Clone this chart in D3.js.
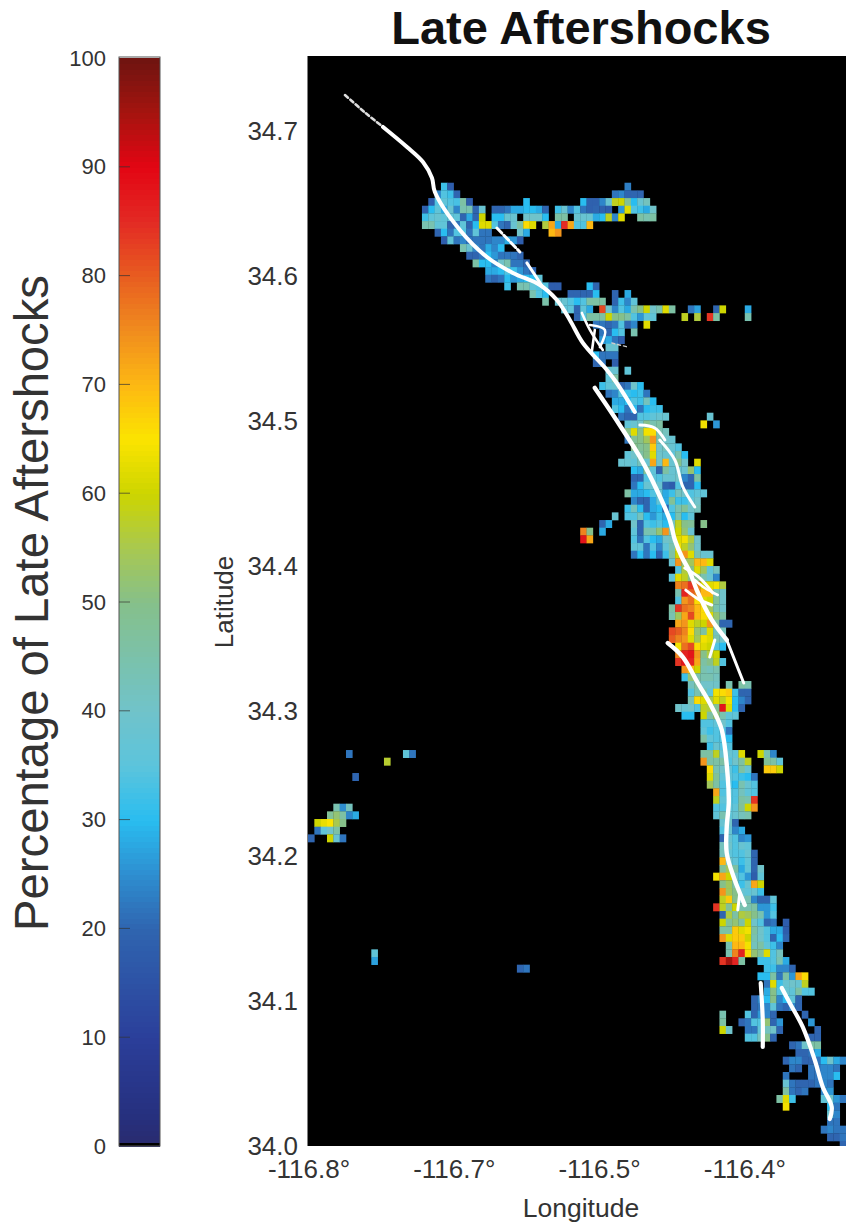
<!DOCTYPE html>
<html><head><meta charset="utf-8">
<script src="https://cdn.jsdelivr.net/npm/d3@7"></script>
<style>html,body{margin:0;padding:0;background:#fff}svg{display:block}text{font-family:"Liberation Sans",Arial,sans-serif}</style>
</head><body><div id="c"></div>
<script>
const titleText = "Late Aftershocks";
const xAxisTitle = "Longitude", yAxisTitle = "Latitude", barTitle = "Percentage of Late Aftershocks";
const latTicks = [34.0,34.1,34.2,34.3,34.4,34.5,34.6,34.7];
const lonTicks = [-116.8,-116.7,-116.6,-116.5];
const lonTickLabels = ["-116.8°","-116.7°","-116.5°","-116.4°"];
const barTicks = [0,10,20,30,40,50,60,70,80,90,100];
const colorStops = [0,3,10,20,25,30,35,40,50,55,60,65,70,75,80,85,90,95,100];
const colorValues = ["#2a2a6e","#26307f","#2b3f9a","#2f65b0","#2e8ed0","#29bdf0","#5cc4dc","#70c3ca","#86c08a","#a8c850","#cdd500","#fbe400","#fdb813","#f08c1e","#e85d20","#e32a24","#e30513","#a5140f","#6e1410"];
const lonOrigin=-116.80034, lonStep=0.0043574, latOrigin=33.99816, latStep=0.005287;

// [row from bottom, first column, percentages]
const cellSegments = [
[125,21,[32,18]],[125,50,[23]],
[124,20,[24,34,32,20]],[124,48,[22,24,20,20,20]],
[123,19,[18,34,36,34,33,46,18]],[123,34,[30]],[123,43,[30,19,19,24,38,58,60,48,30,38,42]],
[122,18,[19,30,36,28,38,24,44,44,20,38]],[122,29,[20,20,22,28,28,30,30,28,20]],[122,39,[32,38,24,34,22,19,20,19,18]],[122,49,[26,62,34,32,28,40]],
[121,18,[32,36,38,36,36,36,20,28,20,60]],[121,29,[30,30,38,38]],[121,34,[40,40,40,30]],[121,39,[46,46]],[121,42,[38,38,38,28,30,58,24,62]],[121,52,[46,44,46]],
[120,18,[44,44,36,36,20,22,36,20,30,62,62,34,22,20,38,46,66,62]],[120,37,[56,72,28,85,72,34,34,70]],
[119,20,[20,30,22,34,34,22,36,22,22]],[119,33,[40,28]],[119,38,[70,74]],
[118,21,[18,36,22,24,22,22,22,22,24,24,28,26,18]],
[117,24,[44,38,24,22,28,24,30]],
[116,25,[20,20,22,30,26,22,22,22,20]],
[115,26,[46,30,30,24,40,44,22,22,20]],
[114,28,[28,28,30,34,32,26,22,20]],
[113,28,[22,20,22,30,26,28,30,30,36]],
[112,31,[32]],[112,33,[44,44,36,34,34,18,18]],[112,44,[30,20]],
[111,35,[44,34,30]],[111,41,[20,20,20,20,30]],[111,48,[20]],[111,50,[28]],
[110,37,[45]],[110,39,[38,38,34,30,34,46,46,46]],[110,48,[20,32,24,36]],
[109,40,[36,36,20,36,28]],[109,46,[82,40,24,34,28,44,50,60,40,44,62,46]],[109,60,[22,27]],[109,64,[20,60]],[109,69,[28]],
[108,42,[20,34,46,46,46,60,50,50,46,34,26,36,36]],[108,59,[58]],[108,61,[56]],[108,63,[84,46]],[108,69,[44]],
[107,45,[22,22,20,22,34,20,24]],[107,53,[62]],
[106,46,[22,20,30,34]],[106,51,[44]],
[105,46,[26,28,22,18]],
[104,47,[38,38]],
[103,45,[30,22,22,22]],
[102,45,[20,22]],[102,48,[18]],
[101,47,[38,38]],[101,50,[36]],
[100,47,[36,46]],
[99,46,[32,36,38,20,22,40,30]],
[98,47,[22,24,34,32,30,32,22]],
[97,48,[28,28,30,34,32,42,30]],
[96,48,[34,30,22,30,22,30,32,32]],
[95,49,[22,20,20,34,34,36,38,38]],[95,63,[38]],
[94,50,[36,38,40,50,44,46]],[94,62,[64]],[94,64,[26]],
[93,50,[50,62,50,64,66,44,42]],
[92,50,[22,48,50,54,74,44,40,38]],
[91,51,[50,48,50,68,40,42,38,34]],
[90,50,[36,40,46,50,62,40,38,36,44,30]],
[89,49,[38,38,36,42,38,72,40,70,38,50,40]],[89,61,[62]],
[88,51,[30,28,48,36,20,46,38,38,38,52,30]],
[87,51,[20,20,34,36,34,38,38,40,24,20,46]],
[86,51,[22,30,38,38,38,20,18,34,20,20,30]],
[85,50,[46,28,28,30,34,38,28,32,42,40,34,36,36]],
[84,51,[24,20,20,28,36,28,48,32,32,36,40]],
[83,50,[32,42,30,20,28,30,20,34,44,48,40,42]],
[82,48,[38]],[82,50,[34,34,42,30,26,32,28,30,44,30,36]],
[81,46,[20,28]],[81,51,[40,20,34,32,34,30,42,58,50,48]],[81,62,[50]],
[80,43,[76,50]],[80,46,[28]],[80,51,[36,20,44,44,52,74,44,60,52,38]],
[79,43,[88,72]],[79,51,[34,22,34,30,28,40,42,62,64,56,40]],
[78,51,[36,36,22,34,24,36,44,64,58,52,40]],
[77,51,[22,30,22,30,20,32,46,60,74,62,44,38,38]],
[76,57,[38,74,52,54,70,70,62]],
[75,58,[34,56,50,62,54,36,42]],
[74,57,[36,62,58,50,50,44,38,24]],
[73,58,[76,78,84,76,60,62,64,56]],
[72,58,[44,86,80,76,70,70,44,40]],
[71,58,[34,74,78,66,62,60,48,40]],
[70,57,[46,84,78,76,70,66,54,44,40]],
[69,57,[44,54,72,82,70,66,62,52,46]],
[68,58,[72,74,62,58,60,74,46,20,20]],
[67,57,[82,80,76,66,52,46,62,42,42]],
[66,57,[80,76,74,62,54,64,62,44,40]],
[65,58,[64,78,82,66,62,60,34,30]],
[64,58,[76,86,88,74,50,56,60]],
[63,58,[84,88,86,72,46,50,58,34]],
[62,59,[74,70,60,44,42,44]],
[61,59,[32,52,44,44,44,42]],
[60,60,[42,46,40,40,40]],[60,66,[44]],[60,68,[46,44]],
[59,60,[34,44,46,36,64,66,68,32,20,20]],
[58,60,[44,66,62,54,62,58,64,30,24,20]],
[57,58,[40,38,40,34,58,56,48,88,62,30,20]],
[56,59,[30,30]],[56,62,[60,46,52,44,36,36]],
[55,62,[34,34,36,40,34]],
[54,62,[36,32,34,34,22]],
[53,62,[46,36,34,34,30]],
[52,63,[32,38,34,34]],
[51,6,[22]],[51,15,[36,22]],[51,62,[46,46,58,38,38,36,62]],[51,71,[60,44,24]],
[50,12,[57]],[50,62,[74,46,46,46,34,40,46,58]],[50,72,[48,46,36]],
[49,63,[66,44,40,36,32,46,38]],[49,72,[68,68,60]],
[48,7,[20]],[48,63,[62,48,36,36,34,32,30,22]],
[47,63,[54,46,34,34,30,44,38,34]],
[46,64,[72,34,36,34,42,36,34]],
[45,64,[58,36,36,34,46,44,84]],
[44,4,[44,25,42]],[44,64,[34,34,36,36,48,60,74]],
[43,3,[48,52,46,24,28]],[43,64,[36,44,36,38,42,44]],
[42,1,[60,63,65,55,50]],[42,65,[38,40,20]],
[41,1,[22,36,40,46]],[41,65,[34,38,24,28]],
[40,0,[20]],[40,3,[60,38,22]],[40,65,[20,38,34,24,26]],
[39,65,[42,40,34,38,36]],
[38,65,[42,36,34,34,38,20]],
[37,65,[70,40,36,32,36,20]],
[36,65,[48,54,46,28,36,20,40]],
[35,64,[64,72,60,40,34,26,18,36]],
[34,65,[50,54,46,32,38,72,60]],
[33,65,[74,54,50,38,36,38,32]],
[32,65,[58,68,50,40,44,24,20,20,36]],
[31,64,[84,58,48,60,44,44,46,26,26,32]],
[30,65,[20,56,46,56,54,50,44,26,34]],
[29,65,[60,48,52,46,60,40,34,20,22]],[29,75,[18]],
[28,65,[46,46,68,62,64,46,40,34,28,28,18]],
[27,65,[74,62,68,68,60,44,40,34,20,30,20]],
[26,66,[44,70,70,64,42,46,36,32,24]],
[25,10,[36]],[25,66,[44,76,86,66,52,48,62,34,42]],
[24,10,[27]],[24,65,[84,95,86,46]],[24,71,[32,32,34,44,28]],
[23,33,[20,22]],[23,72,[32,32,24,24,20]],
[22,71,[30,30,46,22,46,26,72,66]],
[21,72,[22,62,32,38,40,38,58]],
[20,72,[28,50,34,38,36,46,34,34]],
[19,70,[20,24,30,50,24,30,36,20]],
[18,70,[20,22,24,36,22,20,24,20]],
[17,65,[44]],[17,69,[34,20,26,24,20]],[17,78,[20]],
[16,65,[46]],[16,68,[20,22,34,34,52,20,26]],[16,79,[26]],
[15,65,[60,40]],[15,69,[22,22,36,42,40,20]],[15,80,[20]],
[14,69,[34,34,42,50,20]],[14,79,[20,20]],
[13,76,[20,22,40,46,46]],
[12,77,[20,20,22,28]],
[11,75,[20,24,24,20,20,22,30,40,28,24]],
[10,76,[22,20]],[10,79,[22,22,24,24,22]],
[9,75,[22]],[9,79,[22,22,24,24,30]],
[8,75,[38,22,20,20,20,22,24,22]],
[7,75,[46,22,20,22]],[7,81,[24,26]],
[6,74,[46,62,32]],[6,81,[36,40,26,22]],
[5,75,[64]],[5,82,[30,22]],
[4,82,[38,24]],
[3,82,[22,22]],
[2,81,[22,24,22,22]],
[1,82,[20,20,22]],
[0,84,[20]]
];

// fault traces as [lon,lat] vertices, with a stroke width, colour and dash for each
const faultWidths = [2.6,4,4.4,4.4,3,4.2,3,3,3,3,2.6,2.6,2.6,2.6,3,3,1.4,3,3,4.2];
const faultColors = ["#ddd","#fff","#fff","#fff","#fff","#fff","#fff","#fff","#fff","#fff","#fff","#fff","#fff","#fff","#fff","#fff","#ccc","#fff","#fff","#fff"];
const faultDashes = ["4 3",null,null,null,null,null,"7 3",null,null,null,null,null,null,null,null,null,"3 3",null,null,null];
const faultTraces = [
[[-116.7749,34.7248],[-116.7694,34.7200],[-116.7632,34.7145],[-116.7591,34.7110],[-116.7487,34.7028]],
[[-116.7487,34.7028],[-116.7322,34.6890],[-116.7212,34.6786],[-116.7150,34.6676],[-116.7130,34.6579],[-116.6958,34.6317],[-116.6772,34.6131],[-116.6593,34.6021],[-116.6407,34.5938],[-116.6290,34.5834],[-116.6201,34.5697],[-116.6111,34.5538],[-116.5946,34.5352],[-116.5878,34.5262],[-116.5754,34.5062]],
[[-116.6029,34.5228],[-116.5926,34.5076],[-116.5836,34.4938],[-116.5719,34.4752],[-116.5602,34.4524],[-116.5513,34.4317],[-116.5478,34.4179],[-116.5430,34.4062],[-116.5375,34.3959],[-116.5327,34.3834],[-116.5224,34.3628],[-116.5121,34.3490]],
[[-116.5527,34.3469],[-116.5423,34.3372],[-116.5320,34.3193],[-116.5224,34.3028],[-116.5155,34.2869],[-116.5114,34.2545],[-116.5107,34.2366],[-116.5121,34.2200],[-116.5121,34.2021],[-116.5066,34.1834],[-116.5031,34.1745],[-116.4997,34.1662]],
[[-116.5031,34.1745],[-116.5045,34.1628]],
[[-116.4887,34.1124],[-116.4873,34.0869],[-116.4873,34.0683]],
[[-116.6703,34.6331],[-116.6545,34.6166]],
[[-116.6497,34.6090],[-116.6387,34.5924]],
[[-116.5238,34.3372],[-116.5203,34.3490]],
[[-116.5582,34.4869],[-116.5478,34.4731],[-116.5423,34.4545],[-116.5341,34.4407]],
[[-116.6118,34.5745],[-116.6063,34.5628],[-116.5974,34.5490]],
[[-116.6063,34.5662],[-116.5960,34.5628],[-116.5994,34.5510]],
[[-116.6029,34.5628],[-116.6050,34.5476]],
[[-116.5341,34.3903],[-116.5272,34.3848],[-116.5183,34.3800]],
[[-116.5403,34.3834],[-116.5307,34.3766],[-116.5224,34.3731]],
[[-116.5410,34.3986],[-116.5306,34.3917],[-116.5217,34.3814]],
[[-116.5912,34.5538],[-116.5802,34.5510]],
[[-116.5719,34.4972],[-116.5616,34.4952],[-116.5547,34.4869]],
[[-116.5121,34.3490],[-116.5004,34.3193]],
[[-116.4742,34.1090],[-116.4687,34.0986],[-116.4598,34.0821],[-116.4515,34.0593],[-116.4460,34.0407],[-116.4398,34.0269],[-116.4412,34.0186]]
];

const W=846,H=1222;
const svg=d3.select("#c").append("svg").attr("width",W).attr("height",H);
svg.append("rect").attr("width",W).attr("height",H).attr("fill","#fff");
const x=d3.scaleLinear().domain([-116.8,-116.43]).range([308.5,846]);
const y=d3.scaleLinear().domain([34.0,34.75172]).range([1146,56]);
const color=d3.scaleLinear().domain(colorStops).range(colorValues).clamp(true);
const defs=svg.append("defs");
defs.append("clipPath").attr("id","plot").append("rect").attr("x",308).attr("y",56).attr("width",538).attr("height",1090);
svg.append("rect").attr("x",307.5).attr("y",56).attr("width",539).attr("height",1090).attr("fill","#000");
const g=svg.append("g").attr("clip-path","url(#plot)");
const cells=cellSegments.flatMap(([r,c,vals])=>vals.map((v,i)=>({r,c:c+i,v})));
g.selectAll("rect.cell").data(cells).join("rect").attr("class","cell")
 .attr("x",d=>x(lonOrigin+d.c*lonStep))
 .attr("y",d=>y(latOrigin+(d.r+1)*latStep))
 .attr("width",d=>x(lonOrigin+(d.c+1)*lonStep)-x(lonOrigin+d.c*lonStep)+0.3)
 .attr("height",d=>y(latOrigin+d.r*latStep)-y(latOrigin+(d.r+1)*latStep)+0.3)
 .attr("fill",d=>color(d.v));
const line=d3.line().x(d=>x(d[0])).y(d=>y(d[1])).curve(d3.curveCatmullRom);
g.selectAll("path.fault").data(faultTraces).join("path").attr("class","fault")
 .attr("d",line).attr("fill","none")
 .attr("stroke",(d,i)=>faultColors[i])
 .attr("stroke-dasharray",(d,i)=>faultDashes[i])
 .attr("stroke-width",(d,i)=>faultWidths[i]).attr("stroke-linecap","round").attr("stroke-linejoin","round");

const textCol="#333";
const yAxis=d3.axisLeft(y).tickValues(latTicks).tickFormat(d3.format(".1f")).tickSize(0).tickPadding(10);
const ya=svg.append("g").attr("transform","translate(308,0)").call(yAxis);
ya.select(".domain").remove();
ya.selectAll("text").attr("font-size",26).attr("fill",textCol).style("font-family",'"Liberation Sans"');
const xAxis=d3.axisBottom(x).tickValues(lonTicks).tickFormat((d,i)=>lonTickLabels[i]).tickSize(0).tickPadding(0);
const xa=svg.append("g").attr("transform","translate(0,1160)").call(xAxis);
xa.select(".domain").remove();
xa.selectAll("text").attr("font-size",26).attr("fill",textCol).attr("dy","0.71em").style("font-family",'"Liberation Sans"');

svg.append("text").attr("x",581).attr("y",44).attr("text-anchor","middle").attr("font-size",47).attr("font-weight","bold").attr("fill","#111").text(titleText);
svg.append("text").attr("x",581).attr("y",1217).attr("text-anchor","middle").attr("font-size",26.5).attr("fill",textCol).text(xAxisTitle);
svg.append("text").attr("transform","translate(233,602) rotate(-90)").attr("text-anchor","middle").attr("font-size",26).attr("fill",textCol).text(yAxisTitle);
svg.append("text").attr("transform","translate(48,603) rotate(-90)").attr("text-anchor","middle").attr("font-size",47.2).attr("fill",textCol).text(barTitle);

// colour bar
const bar=d3.scaleLinear().domain([0,100]).range([1146,58]);
const barX=119,barW=41;
const levels=d3.range(0,100,0.5);
svg.append("g").attr("shape-rendering","crispEdges").selectAll("rect").data(levels).join("rect")
 .attr("x",barX).attr("width",barW)
 .attr("y",d=>bar(d+0.5)).attr("height",d=>bar(d)-bar(d+0.5)+1)
 .attr("fill",d=>color(d+0.25));
svg.append("rect").attr("x",barX).attr("y",bar(0)-3).attr("width",barW).attr("height",3).attr("fill","#000");
svg.append("rect").attr("x",barX).attr("y",57).attr("width",barW).attr("height",1089).attr("fill","none").attr("stroke","#555").attr("stroke-width",1);
const ba=svg.append("g").attr("transform",`translate(${barX},0)`).call(d3.axisLeft(bar).tickValues(barTicks).tickSize(0).tickPadding(13));
ba.select(".domain").remove();
ba.selectAll("text").attr("font-size",22).attr("fill",textCol).style("font-family",'"Liberation Sans"');
svg.append("g").selectAll("line").data(barTicks.slice(1,-1)).join("line")
 .attr("x1",barX).attr("x2",barX+11).attr("y1",d=>bar(d)).attr("y2",d=>bar(d)).attr("stroke","#333").attr("stroke-opacity",0.7);
</script></body></html>
